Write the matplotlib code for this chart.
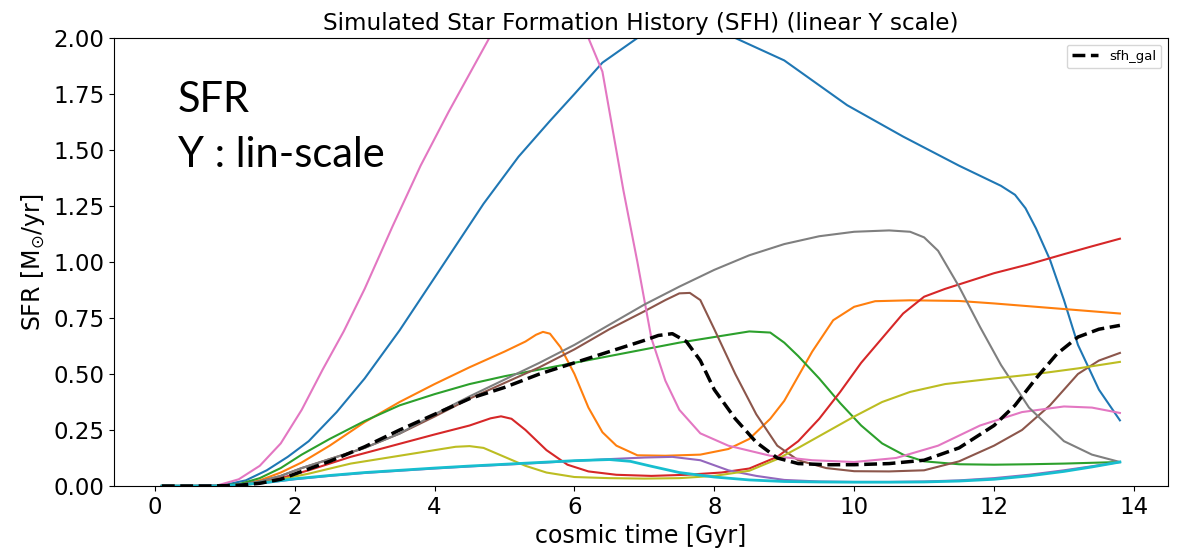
import matplotlib.pyplot as plt

# cosmic time grid points [Gyr] and SFR [Msun/yr] for each model galaxy
t_c0 = [0.1, 0.5, 1.0, 1.3, 1.6, 1.9, 2.2, 2.6, 3.0, 3.5, 4.0, 4.7, 5.2, 5.65, 6.0, 6.4, 6.9, 7.6, 8.3,
        9.0, 9.9, 10.7, 11.5, 12.1, 12.3, 12.45, 12.6, 12.8, 13.0, 13.2, 13.5, 13.8]
sfr_c0 = [0, 0, 0.005, 0.025, 0.07, 0.13, 0.20, 0.33, 0.48, 0.695, 0.93, 1.26, 1.47, 1.63, 1.75, 1.89, 2.0,
          2.04, 2.0, 1.90, 1.70, 1.56, 1.43, 1.34, 1.30, 1.24, 1.15, 1.01, 0.83, 0.63, 0.43, 0.293]

t_c1 = [0.1, 0.8, 1.2, 1.5, 1.8, 2.1, 2.5, 3.0, 3.5, 4.0, 4.5, 5.0, 5.3, 5.45, 5.55, 5.65, 5.8, 6.0, 6.2,
        6.4, 6.6, 6.9, 7.3, 7.8, 8.2, 8.5, 8.8, 9.0, 9.2, 9.4, 9.7, 10.0, 10.3, 10.8, 11.5, 12.0, 12.6, 13.2,
        13.8]
sfr_c1 = [0, 0, 0.005, 0.025, 0.06, 0.105, 0.18, 0.285, 0.375, 0.455, 0.53, 0.60, 0.645, 0.675, 0.688,
          0.68, 0.62, 0.50, 0.35, 0.24, 0.18, 0.137, 0.135, 0.14, 0.165, 0.21, 0.30, 0.38, 0.49, 0.60,
          0.74, 0.80, 0.825, 0.829, 0.826, 0.815, 0.80, 0.785, 0.77]

t_c2 = [0.1, 0.8, 1.2, 1.5, 1.8, 2.1, 2.5, 3.0, 3.5, 4.0, 4.5, 5.0, 5.5, 6.0, 6.5, 7.0, 7.5, 8.0, 8.5,
        8.8, 9.0, 9.2, 9.5, 9.8, 10.1, 10.4, 10.7, 11.0, 11.5, 12.0, 12.5, 13.0, 13.8]
sfr_c2 = [0, 0, 0.008, 0.035, 0.08, 0.14, 0.21, 0.29, 0.36, 0.41, 0.455, 0.49, 0.52, 0.55, 0.58, 0.61,
          0.64, 0.665, 0.69, 0.685, 0.64, 0.58, 0.48, 0.37, 0.27, 0.19, 0.14, 0.11, 0.097, 0.095, 0.097,
          0.10, 0.107]

t_c3 = [0.1, 0.8, 1.2, 1.5, 1.8, 2.2, 2.8, 3.4, 4.0, 4.5, 4.8, 4.95, 5.1, 5.3, 5.6, 5.9, 6.2, 6.6, 7.1,
        7.6, 8.1, 8.5, 8.9, 9.2, 9.5, 9.8, 10.1, 10.4, 10.7, 11.0, 11.3, 11.6, 12.0, 12.5, 13.0, 13.4,
        13.8]
sfr_c3 = [0, 0, 0.004, 0.015, 0.035, 0.07, 0.13, 0.18, 0.23, 0.27, 0.302, 0.311, 0.30, 0.25, 0.16, 0.095,
          0.065, 0.05, 0.045, 0.05, 0.06, 0.078, 0.13, 0.20, 0.30, 0.42, 0.55, 0.66, 0.77, 0.845, 0.88,
          0.91, 0.95, 0.99, 1.035, 1.07, 1.104]

t_c4 = [0.1, 0.8, 1.2, 1.6, 2.0, 2.5, 3.0, 3.5, 4.0, 4.5, 5.0, 5.5, 6.0, 6.5, 7.0, 7.4, 7.8, 8.2, 8.6,
        9.0, 9.5, 10.0, 10.5, 11.0, 11.5, 12.0, 12.5, 13.0, 13.4, 13.8]
sfr_c4 = [0, 0, 0.004, 0.015, 0.03, 0.045, 0.058, 0.068, 0.078, 0.087, 0.095, 0.103, 0.112, 0.12, 0.127,
          0.13, 0.115, 0.07, 0.045, 0.027, 0.02, 0.018, 0.018, 0.02, 0.025, 0.035, 0.05, 0.07, 0.088, 0.107]

t_c5 = [0.1, 0.8, 1.2, 1.5, 1.8, 2.1, 2.5, 3.0, 3.5, 4.0, 4.5, 5.0, 5.5, 6.0, 6.5, 7.0, 7.3, 7.5, 7.65,
        7.8, 8.0, 8.3, 8.6, 8.9, 9.2, 9.6, 10.0, 10.5, 11.0, 11.5, 12.0, 12.4, 12.8, 13.2, 13.5, 13.8]
sfr_c5 = [0, 0, 0.005, 0.02, 0.045, 0.08, 0.12, 0.17, 0.234, 0.31, 0.39, 0.46, 0.53, 0.61, 0.70, 0.78,
          0.83, 0.86, 0.862, 0.83, 0.70, 0.50, 0.32, 0.18, 0.115, 0.08, 0.066, 0.065, 0.07, 0.11, 0.18,
          0.25, 0.36, 0.50, 0.56, 0.594]

t_c6 = [0.1, 0.5, 0.9, 1.2, 1.5, 1.8, 2.1, 2.4, 2.7, 3.0, 3.4, 3.8, 4.2, 4.8, 5.5, 6.0, 6.4, 6.7, 6.9,
        7.1, 7.3, 7.5, 7.8, 8.2, 8.8, 9.4, 10.0, 10.6, 11.2, 11.8, 12.4, 13.0, 13.4, 13.8]
sfr_c6 = [0, 0, 0.003, 0.03, 0.09, 0.19, 0.34, 0.52, 0.69, 0.88, 1.16, 1.43, 1.67, 2.01, 2.28, 2.15, 1.85,
          1.32, 1.0, 0.66, 0.47, 0.34, 0.235, 0.18, 0.135, 0.115, 0.107, 0.125, 0.18, 0.27, 0.33, 0.355,
          0.35, 0.326]

t_c7 = [0.1, 0.8, 1.2, 1.5, 1.8, 2.1, 2.5, 3.0, 3.5, 4.0, 4.5, 5.0, 5.5, 6.0, 6.5, 7.0, 7.5, 8.0, 8.5,
        9.0, 9.5, 10.0, 10.5, 10.8, 11.0, 11.2, 11.5, 11.8, 12.1, 12.5, 13.0, 13.4, 13.8]
sfr_c7 = [0, 0, 0.005, 0.02, 0.045, 0.08, 0.12, 0.17, 0.234, 0.32, 0.40, 0.475, 0.55, 0.63, 0.72, 0.81,
          0.89, 0.965, 1.03, 1.08, 1.115, 1.135, 1.141, 1.135, 1.11, 1.05, 0.89, 0.71, 0.54, 0.35, 0.20,
          0.14, 0.107]

t_c8 = [0.1, 0.8, 1.2, 1.5, 1.8, 2.2, 2.8, 3.4, 4.0, 4.3, 4.5, 4.7, 5.0, 5.3, 5.6, 6.0, 6.5, 7.0, 7.5,
        8.0, 8.5, 8.9, 9.2, 9.6, 10.0, 10.4, 10.8, 11.3, 12.0, 12.6, 13.2, 13.8]
sfr_c8 = [0, 0, 0.003, 0.012, 0.03, 0.055, 0.10, 0.13, 0.16, 0.175, 0.178, 0.17, 0.13, 0.09, 0.06, 0.04,
          0.035, 0.033, 0.035, 0.045, 0.068, 0.12, 0.17, 0.24, 0.31, 0.375, 0.42, 0.455, 0.48, 0.50, 0.525,
          0.554]

t_c9 = [0.1, 0.8, 1.2, 1.6, 2.0, 2.5, 3.0, 3.5, 4.0, 4.5, 5.0, 5.5, 6.0, 6.5, 6.8, 7.1, 7.5, 8.0, 8.5,
        9.0, 9.5, 10.0, 10.5, 11.0, 11.5, 12.0, 12.5, 13.0, 13.4, 13.8]
sfr_c9 = [0, 0, 0.004, 0.016, 0.032, 0.047, 0.06, 0.07, 0.08, 0.089, 0.097, 0.105, 0.113, 0.118, 0.11,
          0.088, 0.06, 0.04, 0.027, 0.02, 0.018, 0.017, 0.017, 0.018, 0.022, 0.03, 0.045, 0.065, 0.085,
          0.107]

# total galaxy SFH
t_gal = [0.1, 0.8, 1.2, 1.5, 1.8, 2.1, 2.5, 3.0, 3.5, 4.0, 4.5, 5.0, 5.5, 6.0, 6.5, 7.0, 7.2, 7.4, 7.6,
         7.8, 8.0, 8.3, 8.6, 8.9, 9.2, 9.6, 10.0, 10.5, 11.0, 11.5, 12.0, 12.3, 12.6, 12.9, 13.2, 13.5,
         13.8]
sfr_gal = [0, 0, 0.003, 0.012, 0.03, 0.065, 0.11, 0.175, 0.25, 0.32, 0.39, 0.44, 0.50, 0.55, 0.60, 0.65,
           0.672, 0.68, 0.645, 0.56, 0.43, 0.30, 0.195, 0.125, 0.10, 0.095, 0.095, 0.10, 0.115, 0.17,
           0.27, 0.36, 0.48, 0.59, 0.665, 0.70, 0.717]

times = [t_c0, t_c1, t_c2, t_c3, t_c4, t_c5, t_c6, t_c7, t_c8, t_c9]
sfrs = [sfr_c0, sfr_c1, sfr_c2, sfr_c3, sfr_c4, sfr_c5, sfr_c6, sfr_c7, sfr_c8, sfr_c9]

fig, ax = plt.subplots(figsize=(11.82, 5.51), dpi=100)
fig.subplots_adjust(left=0.0964, right=0.988, top=0.931, bottom=0.118)

for i in range(len(times)):
    lw = 2.0 if i == 9 else 1.5
    ax.plot(times[i], sfrs[i], color='C%d' % i, lw=lw)
ax.plot(t_gal, sfr_gal, 'k--', lw=2.5, label='sfh_gal')

ax.set_ylim(0, 2.0)
ax.set_title('Simulated Star Formation History (SFH) (linear Y scale)', fontsize=16.7)
ax.set_xlabel('cosmic time [Gyr]', fontsize=17)
ax.set_ylabel(r'SFR [M$_{\odot}$/yr]', fontsize=17)
ax.tick_params(labelsize=16.5)
ax.legend(loc='upper right', fontsize=9.5)

fig.text(178 / 1182, 1 - 112 / 551, 'SFR', fontsize=30, family='Lato', va='baseline')
fig.text(178 / 1182, 1 - 167 / 551, 'Y : lin-scale', fontsize=30, family='Lato', va='baseline')

plt.savefig('out.png')
